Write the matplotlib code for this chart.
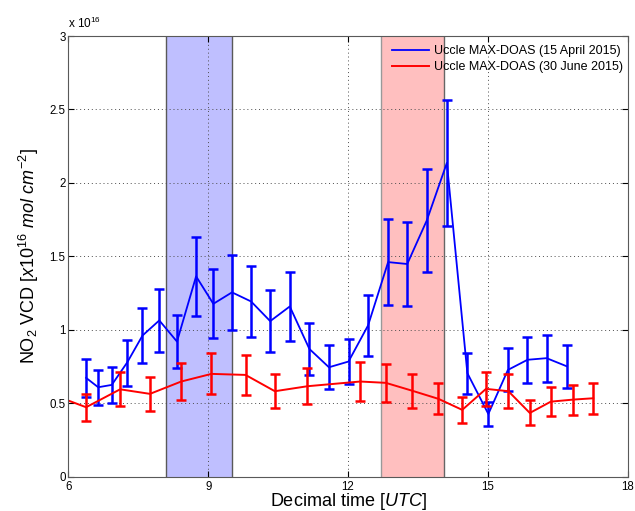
#!/usr/bin/env python3

import matplotlib
matplotlib.use('Agg')
import matplotlib.pyplot as plt
import numpy as np

plt.rcParams['font.family'] = ['Liberation Sans', 'DejaVu Sans']
plt.rcParams['mathtext.fontset'] = 'custom'
plt.rcParams['mathtext.rm'] = 'Liberation Sans'
plt.rcParams['mathtext.it'] = 'Liberation Sans:italic'

# 15 April 2015 (blue)
t_apr = [6.38, 6.64, 6.93, 7.26, 7.59, 7.95, 8.33, 8.74, 9.11, 9.51,
         9.92, 10.33, 10.75, 11.17, 11.59, 12.01, 12.43, 12.86, 13.27, 13.69,
         14.12, 14.56, 15.01, 15.43, 15.85, 16.26, 16.69]
vcd_apr = [0.673, 0.609, 0.625, 0.777, 0.961, 1.064, 0.92, 1.364, 1.177, 1.255,
           1.193, 1.059, 1.159, 0.870, 0.745, 0.784, 1.03, 1.461, 1.448, 1.745,
           2.136, 0.705, 0.427, 0.727, 0.796, 0.807, 0.752]
err_apr = [0.13, 0.12, 0.125, 0.157, 0.19, 0.213, 0.18, 0.27, 0.235, 0.255,
           0.24, 0.21, 0.233, 0.175, 0.15, 0.155, 0.207, 0.292, 0.287, 0.35,
           0.43, 0.14, 0.083, 0.146, 0.157, 0.16, 0.148]

# 30 June 2015 (red)
t_jun = [5.65, 6.38, 7.11, 7.75, 8.42, 9.07, 9.80, 10.43, 11.13, 12.26,
         12.81, 13.37, 13.94, 14.45, 14.96, 15.44, 15.90, 16.35, 16.83, 17.26]
vcd_jun = [0.56, 0.473, 0.595, 0.564, 0.648, 0.7, 0.693, 0.582, 0.616, 0.648,
           0.639, 0.586, 0.53, 0.455, 0.598, 0.582, 0.434, 0.511, 0.525, 0.534]
err_jun = [0.1, 0.093, 0.117, 0.114, 0.128, 0.139, 0.138, 0.115, 0.123, 0.13,
           0.127, 0.116, 0.105, 0.089, 0.116, 0.114, 0.085, 0.1, 0.102, 0.104]

span_apr = (8.1, 9.5)
span_jun = (12.7, 14.05)

fig = plt.figure(figsize=(6.35, 5.11), dpi=100)
ax = fig.add_axes([0.1077, 0.0671, 0.8808, 0.8624])

ax.axvspan(*span_apr, facecolor='blue', alpha=0.25, edgecolor='none')
ax.axvspan(*span_jun, facecolor='red', alpha=0.25, edgecolor='none')
ax.axvline(span_apr[0], color='0.35', lw=1.0, zorder=1.2)
ax.axvline(span_apr[1], color='0.35', lw=1.0, zorder=1.2)
ax.axvline(span_jun[0], color='0.6', lw=1.0, zorder=1.2)
ax.axvline(span_jun[1], color='0.4', lw=1.0, zorder=1.2)

ax.plot(t_apr, vcd_apr, color='blue', lw=1.3, label='Uccle MAX-DOAS (15 April 2015)')
ax.errorbar(t_apr, vcd_apr, yerr=err_apr, fmt='none', ecolor='blue',
            elinewidth=1.8, capsize=3.6, capthick=1.8)
ax.plot(t_jun, vcd_jun, color='red', lw=1.4, label='Uccle MAX-DOAS (30 June 2015)')
ax.errorbar(t_jun, vcd_jun, yerr=err_jun, fmt='none', ecolor='red',
            elinewidth=1.8, capsize=3.6, capthick=1.8)

ax.set_xlim(6, 18)
ax.set_ylim(0, 3)
ax.set_xticks([6, 9, 12, 15, 18])
ax.set_yticks([0, 0.5, 1, 1.5, 2, 2.5, 3])
ax.set_yticklabels(['0', '0.5', '1', '1.5', '2', '2.5', '3'])
ax.grid(True, linestyle=(0, (1, 3)), color='0.3', lw=0.7)
ax.tick_params(direction='in', top=True, right=True, length=4, labelsize=8.3)
ax.tick_params(axis='x', pad=3)
ax.tick_params(axis='y', pad=2)
for s in ax.spines.values():
    s.set_color('0.35')
    s.set_linewidth(0.8)

ax.set_xlabel(r'Decimal time [$\mathit{UTC}$]', fontsize=13, labelpad=-1)
ax.set_ylabel(r'NO$_2$ VCD [$\mathit{x10^{16}\ mol\ cm^{-2}}$]', fontsize=13, labelpad=6)
ax.text(0.0, 1.012, r'x 10$^{16}$', transform=ax.transAxes, fontsize=8.5,
        ha='left', va='bottom')

leg = ax.legend(loc='upper right', bbox_to_anchor=(1.0, 1.0 - 5 / 440.7),
                frameon=False, fontsize=9, handlelength=3.0, handletextpad=0.4,
                borderaxespad=0, borderpad=0.35, labelspacing=0.3)

plt.savefig('out.png', dpi=100)
plt.close()
